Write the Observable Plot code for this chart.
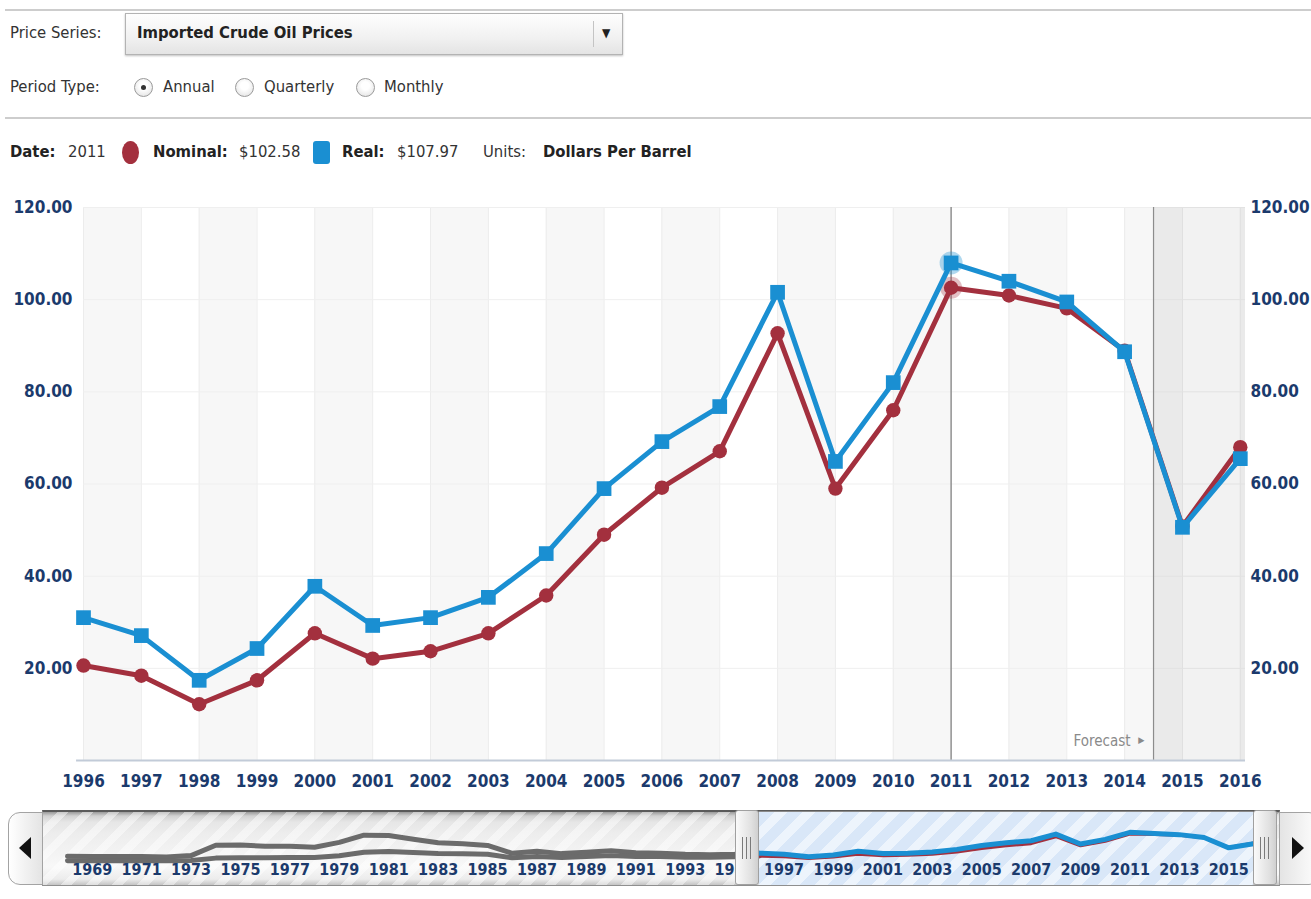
<!DOCTYPE html>
<html>
<head>
<meta charset="utf-8">
<script src="https://cdn.jsdelivr.net/npm/d3@7"></script>
<script src="https://cdn.jsdelivr.net/npm/@observablehq/plot@0.6"></script>
<style>
  html, body { margin: 0; padding: 0; }
  body { width: 1311px; height: 899px; overflow: hidden; background: #fff; position: relative;
         font-family: "DejaVu Sans Condensed", "DejaVu Sans", sans-serif; color: #333; }
  .hr { position: absolute; left: 5px; width: 1306px; height: 2px; background: #cdcdcd; }
  .t { position: absolute; font-size: 16.5px; line-height: 20px; white-space: nowrap; }
  .b { font-weight: bold; color: #222; }
  .dd { position: absolute; left: 125px; top: 13px; width: 496px; height: 40px; border: 1px solid #b3b3b3;
        background: linear-gradient(#fefefe, #f1f1f1 60%, #e4e4e4); box-shadow: 0 1px 2px rgba(0,0,0,0.25); }
  .radio { position: absolute; width: 17px; height: 17px; border-radius: 50%; border: 1px solid #9a9a9a;
           background: radial-gradient(circle at 50% 40%, #ffffff 30%, #dcdcdc 100%); }
  .radio.on::after { content: ""; position: absolute; left: 6px; top: 6px; width: 5px; height: 5px; border-radius: 50%; background: #333; }
  #mainWrap { position: absolute; left: 0; top: 180px; z-index: 2; }
  #navWrap { position: absolute; left: 0; top: 800px; z-index: 3; }
  .navbg { position: absolute; z-index: 1; }
  .navfg { position: absolute; z-index: 4; }
</style>
</head>
<body>
<div class="hr" style="top:9px"></div>
<div class="t" style="left:10px;top:23px">Price Series:</div>
<div class="dd">
  <div class="t b" style="left:11px;top:9px">Imported Crude Oil Prices</div>
  <div style="position:absolute;left:467px;top:7px;width:1px;height:26px;background:#c4c4c4"></div>
  <div style="position:absolute;left:476px;top:11px;font-size:12px;line-height:16px;color:#222">▼</div>
</div>
<div class="t" style="left:10px;top:77px">Period Type:</div>
<div id="radios"></div>
<div class="hr" style="top:117px"></div>
<div id="legend"></div>

<div id="mainWrap"></div>

<!-- navigator chrome behind -->
<div class="navbg" id="track" style="left:42px;top:810px;width:1236px;height:73px;border:1px solid #8f8f8f;border-top:2px solid #5a5a5a;
  background: repeating-linear-gradient(135deg, rgba(255,255,255,0) 0 10px, rgba(255,255,255,0.45) 10px 18px),
  linear-gradient(to bottom, #9a9a9a 0px, #d2d2d2 4px, #e6e6e6 10px, #ededed 30%, #f3f3f3 55%, #f8f8f8 75%, #ececec 92%, #c4c4c4 100%);"></div>
<div class="navbg" id="sel" style="top:811px;height:73px;border-top:1px solid #8a8a8a;
  background: repeating-linear-gradient(135deg, #d9e7f8 0 11px, #edf4fc 11px 20px);"></div>
<div id="navWrap"></div>
<div class="navfg" id="lbtn" style="left:8px;top:812px;width:33px;height:71px;border:1px solid #a3a3a3;border-radius:12px 0 0 12px;background:linear-gradient(to right,#ffffff,#e4e4e4)">
  <div style="position:absolute;left:10px;top:24px;width:0;height:0;border-top:11px solid transparent;border-bottom:11px solid transparent;border-right:12px solid #111"></div>
</div>
<div class="navfg" id="rbtn" style="left:1279px;top:812px;width:40px;height:71px;border:1px solid #a3a3a3;border-radius:0 12px 12px 0;background:linear-gradient(to left,#ffffff,#e4e4e4)">
  <div style="position:absolute;left:12px;top:24px;width:0;height:0;border-top:11px solid transparent;border-bottom:11px solid transparent;border-left:12px solid #111"></div>
</div>
<div class="navfg handle" id="lh"></div>
<div class="navfg handle" id="rh"></div>

<script>
// ---------- data ----------
const years = [1968,1969,1970,1971,1972,1973,1974,1975,1976,1977,1978,1979,1980,1981,1982,1983,1984,1985,1986,1987,1988,1989,1990,1991,1992,1993,1994,1995,
               1996,1997,1998,1999,2000,2001,2002,2003,2004,2005,2006,2007,2008,2009,2010,2011,2012,2013,2014,2015,2016];
const nominal = [2.90,2.80,2.96,3.17,2.90,4.08,12.52,13.93,13.48,14.53,14.57,21.67,33.89,37.05,33.55,29.30,28.88,26.99,14.00,18.13,14.56,18.08,21.76,18.70,18.20,16.14,15.51,17.14,
                 20.6,18.4,12.2,17.4,27.6,22.1,23.7,27.6,35.8,49.0,59.2,67.1,92.7,59.0,76.0,102.58,100.9,98.1,88.9,50.8,68.0];
const real = [19.7,18.1,18.1,18.5,16.4,21.8,60.2,61.4,56.2,56.8,52.9,70.7,97.5,96.6,82.4,69.7,65.9,59.4,30.3,37.8,29.2,34.6,39.5,32.5,30.7,26.5,24.8,26.7,
              31.0,27.1,17.4,24.3,37.8,29.3,31.0,35.4,44.9,59.0,69.2,76.8,101.6,64.9,82.0,107.97,104.0,99.5,88.7,50.6,65.5];
const viewStart = 1996, viewEnd = 2016;
const selectedYear = 2011;
const forecastStart = 2014.5;
const yTicks = [20, 40, 60, 80, 100, 120];
const navTicks = [1969,1971,1973,1975,1977,1979,1981,1983,1985,1987,1989,1991,1993,1995,1997,1999,2001,2003,2005,2007,2009,2011,2013,2015];
const units = "Dollars Per Barrel";

// ---------- styles ----------
const RED = "#a3303e", BLUE = "#1a8fd2", NAVY = "#1b3a6c", GRAY = "#6b6b6b";
const FONT = '"DejaVu Sans Condensed", "DejaVu Sans", sans-serif';
const xEnd = 2016.09, xAxisStart = 1995.88;

const all = years.map((y, i) => ({year: y, nominal: nominal[i], real: real[i]}));
const mainData = all.filter(d => d.year >= viewStart && d.year <= viewEnd);
const mainYears = mainData.map(d => d.year);
const bandStarts = mainYears.filter(y => (y - viewStart) % 2 === 0);
const sel = all.filter(d => d.year === selectedYear);

// radios
const radios = [["Annual", 134, 163, true], ["Quarterly", 235, 264, false], ["Monthly", 356, 384, false]];
document.getElementById("radios").innerHTML = radios.map(([t, cx, tx, on]) =>
  `<div class="radio${on ? " on" : ""}" style="left:${cx}px;top:78px"></div><div class="t" style="left:${tx}px;top:77px">${t}</div>`).join("");

// legend
const s = sel[0];
document.getElementById("legend").innerHTML = `
  <div class="t b" style="left:10px;top:142px">Date:</div>
  <div class="t" style="left:68px;top:142px">${s.year}</div>
  <div style="position:absolute;left:122px;top:141px;width:17px;height:23px;border-radius:50%;background:${RED}"></div>
  <div class="t b" style="left:153px;top:142px">Nominal:</div>
  <div class="t" style="left:239px;top:142px">$${s.nominal.toFixed(2)}</div>
  <div style="position:absolute;left:313px;top:141px;width:17px;height:23px;border-radius:3px;background:${BLUE}"></div>
  <div class="t b" style="left:342px;top:142px">Real:</div>
  <div class="t" style="left:397px;top:142px">$${s.real.toFixed(2)}</div>
  <div class="t" style="left:483px;top:142px">Units:</div>
  <div class="t b" style="left:543px;top:142px">${units}</div>`;

// ---------- main chart ----------
const main = Plot.plot({
  width: 1311, height: 620,
  marginTop: 27, marginBottom: 40, marginLeft: 83, marginRight: 66,
  x: {domain: [viewStart, xEnd]},
  y: {domain: [0, 120]},
  style: {background: "transparent", fontFamily: FONT, fontSize: "17px", overflow: "visible"},
  marks: [
    Plot.rect(bandStarts, {x1: d => d, x2: d => d + 1, y1: 0, y2: 120, fill: "#f7f7f7", clip: true}),
    Plot.ruleX(mainYears, {x: d => d, y1: 0, y2: 120, stroke: "#ececec"}),
    Plot.ruleY(yTicks, {y: d => d, stroke: "#efefef"}),
    Plot.rect([forecastStart], {x1: d => d, x2: xEnd, y1: 0, y2: 120, fill: "#000", fillOpacity: 0.05}),
    Plot.ruleX([forecastStart], {x: d => d, y1: 0, y2: 120, stroke: "#8c8c8c", strokeWidth: 1.2}),
    Plot.ruleX([selectedYear], {x: d => d, y1: 0, y2: 120, stroke: "#7a7a7a", strokeWidth: 1.2}),
    Plot.text(["Forecast"], {x: forecastStart, y: 0, text: d => d, textAnchor: "end", dx: -23, dy: -19, fill: "#8a8a8a", fontSize: 15, fontWeight: "normal"}),
    Plot.text(["▶"], {x: forecastStart, y: 0, text: d => d, textAnchor: "end", dx: -9, dy: -20, fill: "#8a8a8a", fontSize: 9, fontWeight: "normal"}),
    Plot.ruleY([0], {x1: xAxisStart, x2: xEnd, stroke: "#c2cbd8", strokeWidth: 2}),
    Plot.line(mainData, {x: "year", y: "nominal", stroke: RED, strokeWidth: 5, strokeLinejoin: "round"}),
    Plot.dot(mainData, {x: "year", y: "nominal", r: 7.2, fill: RED, symbol: "circle"}),
    Plot.dot(sel, {x: "year", y: "nominal", r: 11, fill: RED, fillOpacity: 0.3, symbol: "circle"}),
    Plot.line(mainData, {x: "year", y: "real", stroke: BLUE, strokeWidth: 5, strokeLinejoin: "round"}),
    Plot.dot(mainData, {x: "year", y: "real", r: 8.3, fill: BLUE, symbol: "square"}),
    Plot.dot(sel, {x: "year", y: "real", r: 11.5, fill: BLUE, fillOpacity: 0.35, symbol: "circle"}),
    Plot.axisY({anchor: "left", ticks: yTicks, tickFormat: d => d.toFixed(2), tickSize: 0, tickPadding: 11, color: NAVY, fontWeight: "bold", label: null}),
    Plot.axisY({anchor: "right", ticks: yTicks, tickFormat: d => d.toFixed(2), tickSize: 0, tickPadding: 5, color: NAVY, fontWeight: "bold", label: null}),
    Plot.axisX({ticks: mainYears, tickFormat: d => String(d), tickSize: 0, tickPadding: 14, color: NAVY, fontWeight: "bold", label: null})
  ]
});
document.getElementById("mainWrap").appendChild(main);

// ---------- navigator ----------
const hist = all.filter(d => d.year <= viewStart);
const cur = all.filter(d => d.year >= viewStart);
const nav = Plot.plot({
  width: 1311, height: 99,
  marginTop: 28.6, marginBottom: 38, marginLeft: 67, marginRight: 58,
  x: {domain: [years[0], years[years.length - 1]]},
  y: {domain: [0, 120], axis: null},
  style: {background: "transparent", fontFamily: FONT, fontSize: "16px", overflow: "visible"},
  marks: [
    Plot.line(hist, {x: "year", y: "real", stroke: GRAY, strokeWidth: 5, strokeLinejoin: "round"}),
    Plot.line(hist, {x: "year", y: "nominal", stroke: GRAY, strokeWidth: 5, strokeLinejoin: "round"}),
    Plot.line(cur, {x: "year", y: "nominal", stroke: RED, strokeWidth: 3.5, strokeLinejoin: "round"}),
    Plot.line(cur, {x: "year", y: "real", stroke: BLUE, strokeWidth: 5, strokeLinejoin: "round"}),
    Plot.axisX({ticks: navTicks, tickFormat: d => String(d), tickSize: 0, tickPadding: 2, color: NAVY, fontWeight: "bold", label: null})
  ]
});
document.getElementById("navWrap").appendChild(nav);

// position navigator selection & handles from the nav scale
const nx = nav.scale("x");
const xs = nx.apply(viewStart), xe = nx.apply(viewEnd);
const selEl = document.getElementById("sel");
selEl.style.left = xs + "px"; selEl.style.width = (xe - xs) + "px";
const handleCss = (el, left) => {
  el.style.cssText = `left:${left}px;top:810px;width:22px;height:73px;border:1px solid #a0a0a0;border-radius:3px;
    background:linear-gradient(to right,#fafafa,#e0e0e0 70%,#d0d0d0);`;
  el.innerHTML = [6, 10, 14].map(l => `<div style="position:absolute;left:${l}px;top:26px;width:1px;height:22px;background:#7a7a7a"></div>`).join("");
};
handleCss(document.getElementById("lh"), xs - 24);
handleCss(document.getElementById("rh"), xe);
</script>
</body>
</html>
